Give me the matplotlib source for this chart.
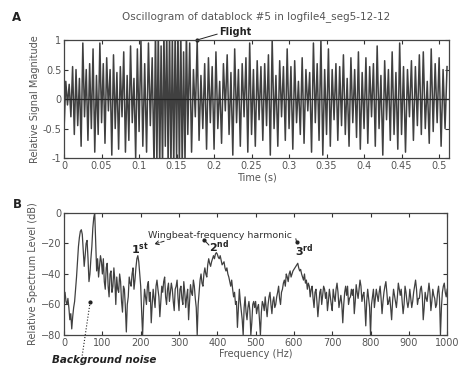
import numpy as np
import matplotlib
matplotlib.use("Agg")
import matplotlib.pyplot as plt

# Oscillogram: signal extremes, grouped by time span (s)
seg_edges = [0.0, 0.05, 0.10, 0.12, 0.165, 0.20, 0.25, 0.30, 0.35, 0.40, 0.45, 0.5133]
seg_values = [
    [-0.5, 0.3, -0.1, 0.25, -0.3, 0.55, -0.6, 0.5, -0.45, 0.35, -0.8, 0.95, -0.3, 0.5,
     -0.7, 0.6, -0.5, 0.85, -0.9, 0.4, -0.6, 0.95],
    [-0.4, 0.6, -0.75, 0.7, -0.2, 0.5, -0.95, 0.75, -0.5, 0.45, -0.85, 0.55, -0.3, 0.8,
     -0.9, 0.4, -0.7, 0.9, -0.4, 0.35, -1.0, 0.85],
    [-0.55, 1.0, -0.8, 0.6, -0.9, 0.95, -0.45, 0.7],
    [-1.2, 1.2, -1.1, 1.2, -1.2, 0.9, -1.2, 1.2, -0.8, 1.2, -1.2, 1.2, -1.2, 1.1,
     -1.2, 1.2, -1.0, 1.2, -1.2, 1.2, -1.2, 0.8, -1.1, 1.2],
    [-0.6, 0.95, -0.9, 0.5, -0.3, 1.0, -0.7, 0.4, -0.5, 0.6, -0.85, 0.7, -0.4, 0.55],
    [-0.85, 0.8, -0.5, 0.3, -0.75, 0.6, -0.2, 0.75, -0.6, 0.45, -0.95, 0.85, -0.4, 0.5,
     -0.8, 0.6, -0.3, 0.7, -0.9, 0.95],
    [-0.6, 0.5, -0.8, 0.65, -0.35, 0.55, -0.7, 0.6, -0.45, 0.75, -0.95, 1.0, -0.5, 0.4,
     -0.8, 0.65, -0.3, 0.55, -0.7, 0.85],
    [-0.5, 0.55, -0.85, 0.65, -0.4, 0.3, -0.6, 0.7, -0.75, 0.5, -0.2, 0.45, -0.9, 0.95,
     -0.4, 0.6, -0.7, 1.0, -0.95, 0.5],
    [-0.6, 0.85, -0.8, 0.5, -0.35, 0.6, -0.7, 0.55, -0.45, 0.75, -0.6, 0.35, -0.8, 0.7,
     -0.4, 0.5, -0.65, 0.8, -0.85, 0.45],
    [-0.5, 0.7, -0.75, 0.55, -0.3, 0.6, -0.8, 0.9, -0.5, 0.4, -0.95, 0.65, -0.35, 0.5,
     -0.7, 0.8, -0.6, 0.45, -0.85, 0.95],
    [-0.6, 0.55, -0.9, 0.5, -0.3, 0.65, -0.7, 0.55, -0.45, 0.75, -0.6, 0.8, -0.5, 0.3,
     -0.75, 0.85, -0.55, 0.6, -0.4, 0.7, -0.8, 0.5, -0.5, 0.55],
]

# Spectrum level (dB), one value every 2.5 Hz from 0 to 1000 Hz
spec_step = 2.5
spec_0_100 = [-55, -52, -58, -60, -56, -62, -70, -66, -76, -68, -62, -58, -50, -42, -32,
              -22, -16, -12, -11, -14, -25, -35, -28, -20, -18, -30, -45, -40, -30, -22,
              -10, -3, 0, -20, -38, -30, -42, -35, -28, -32, -40]
spec_100_200 = [-30, -45, -50, -36, -33, -48, -55, -40, -38, -52, -48, -36, -44, -60, -42,
                -50, -52, -40, -45, -58, -65, -48, -50, -62, -78, -60, -55, -42, -46, -48,
                -40, -36, -50, -44, -36, -30, -28, -32, -40, -48]
spec_200_300 = [-65, -80, -62, -50, -55, -60, -48, -45, -58, -52, -72, -60, -50, -56, -62,
                -48, -44, -50, -55, -68, -58, -48, -52, -45, -42, -55, -60, -50, -46, -58,
                -52, -46, -50, -58, -64, -50, -48, -44, -56, -64]
spec_300_400 = [-50, -48, -56, -60, -45, -52, -62, -55, -50, -70, -58, -47, -52, -54, -44,
                -48, -56, -62, -80, -60, -52, -44, -40, -46, -48, -40, -36, -40, -42, -34,
                -30, -33, -35, -32, -30, -28, -30, -27, -26, -27]
spec_400_500 = [-29, -30, -28, -31, -34, -33, -32, -36, -38, -36, -40, -42, -45, -48, -44,
                -50, -55, -52, -60, -58, -75, -62, -50, -58, -64, -70, -80, -62, -55, -65,
                -70, -62, -58, -64, -80, -72, -60, -58, -62, -58]
spec_500_600 = [-66, -62, -60, -70, -80, -65, -58, -60, -64, -55, -62, -68, -60, -55, -52,
                -60, -66, -58, -55, -62, -60, -55, -52, -48, -56, -60, -52, -50, -46, -44,
                -48, -40, -42, -45, -40, -38, -42, -40, -38, -37]
spec_600_700 = [-36, -35, -34, -33, -36, -38, -37, -40, -42, -44, -40, -46, -44, -50, -46,
                -48, -55, -50, -48, -56, -62, -52, -50, -58, -68, -60, -52, -50, -60, -54,
                -48, -50, -56, -52, -64, -58, -50, -55, -60, -64]
spec_700_800 = [-50, -55, -58, -50, -46, -52, -62, -58, -54, -60, -72, -60, -52, -48, -54,
                -48, -60, -56, -55, -50, -54, -50, -66, -58, -47, -52, -56, -50, -44, -48,
                -58, -54, -52, -60, -74, -58, -50, -56, -62, -80]
spec_800_900 = [-60, -55, -50, -62, -56, -50, -54, -58, -52, -48, -56, -66, -58, -52, -48,
                -45, -52, -60, -58, -55, -62, -70, -58, -50, -54, -58, -62, -55, -46, -50,
                -54, -50, -58, -66, -60, -48, -52, -58, -62, -58]
spec_900_1000 = [-50, -56, -62, -58, -52, -48, -44, -50, -60, -56, -56, -50, -48, -54, -70,
                 -62, -52, -56, -58, -52, -46, -52, -64, -58, -50, -54, -56, -62, -60, -52,
                 -48, -56, -80, -62, -52, -48, -46, -52, -55, -50]

spec_db = (spec_0_100 + spec_100_200 + spec_200_300 + spec_300_400 + spec_400_500
           + spec_500_600 + spec_600_700 + spec_700_800 + spec_800_900 + spec_900_1000)

t_list, sig_list = [], []
for i, vals in enumerate(seg_values):
    ts = np.linspace(seg_edges[i], seg_edges[i + 1], len(vals), endpoint=False)
    t_list.extend(ts)
    sig_list.extend(vals)
t = np.array(t_list)
sig = np.array(sig_list)
freqs = np.arange(len(spec_db)) * spec_step

txt_col = "#555555"
line_col = "#404040"
plt.rcParams["font.family"] = ["DejaVu Sans"]
plt.rcParams["font.size"] = 7

fig = plt.figure(figsize=(4.61, 3.71), dpi=100)
axA = fig.add_axes([0.139, 0.574, 0.835, 0.318])
axB = fig.add_axes([0.139, 0.097, 0.831, 0.329])

# panel A
axA.plot(t, sig, color=line_col, lw=1.1)
axA.axhline(0, color="#222222", lw=0.9)
axA.set_xlim(0, 0.5133)
axA.set_ylim(-1, 1)
axA.set_xticks(np.arange(0, 0.51, 0.05))
axA.set_xticklabels(["0", "0.05", "0.1", "0.15", "0.2", "0.25", "0.3", "0.35", "0.4", "0.45", "0.5"])
axA.set_yticks([-1, -0.5, 0, 0.5, 1])
axA.set_yticklabels(["-1", "-0.5", "0", "0.5", "1"])
axA.set_xlabel("Time (s)", color=txt_col, labelpad=1)
axA.set_ylabel("Relative Signal Magnitude", color=txt_col, labelpad=2)
axA.set_title("Oscillogram of datablock #5 in logfile4_seg5-12-12", color=txt_col, fontsize=7.5, pad=15)
axA.plot([0.204, 0.177], [1.10, 1.0], color="#222222", lw=0.7, clip_on=False)
axA.plot([0.177], [1.0], "o", color="#222222", ms=2, clip_on=False)
axA.text(0.207, 1.13, "Flight", fontweight="bold", fontsize=7, color="#222222", va="center")

# panel B
axB.plot(freqs, spec_db, color=line_col, lw=0.9)
axB.set_xlim(0, 1000)
axB.set_ylim(-80, 0)
axB.set_xticks(np.arange(0, 1001, 100))
axB.set_yticks([-80, -60, -40, -20, 0])
axB.set_xlabel("Frequency (Hz)", color=txt_col, labelpad=1)
axB.set_ylabel("Relative Spectrum Level (dB)", color=txt_col, labelpad=2)
axB.text(407, -14.5, "Wingbeat-frequency harmonic", ha="center", va="center", fontsize=6.8, color="#333333")
axB.text(198, -24, r"$\mathbf{1^{st}}$", ha="center", va="center", fontsize=8, color="#222222")
axB.annotate("", xy=(228, -21), xytext=(268, -18),
             arrowprops=dict(arrowstyle="->", color="#222222", lw=0.7, ls="--"))
axB.text(405, -22, r"$\mathbf{2^{nd}}$", ha="center", va="center", fontsize=8, color="#222222")
axB.plot([365, 378], [-17.5, -21], color="#222222", lw=0.7)
axB.plot([365], [-17.5], "o", color="#222222", ms=2)
axB.text(628, -25, r"$\mathbf{3^{rd}}$", ha="center", va="center", fontsize=8, color="#222222")
axB.plot([605, 607], [-17, -19], color="#222222", lw=0.7)
axB.plot([607], [-19], "o", color="#222222", ms=2)
axB.plot([68, 47], [-58.4, -94], color="#222222", lw=0.8, ls=":", clip_on=False)
axB.plot([68], [-58.4], "o", color="#222222", ms=2)
fig.text(0.225, 0.03, "Background noise", fontweight="bold", style="italic", fontsize=7.5,
         color="#222222", ha="center", va="center")

for ax in (axA, axB):
    ax.tick_params(direction="in", length=3, colors="#333333", labelcolor=txt_col,
                   top=True, right=True, pad=2)
    for s in ax.spines.values():
        s.set_color("#444444")
        s.set_linewidth(0.9)

fig.text(0.026, 0.954, "A", fontweight="bold", fontsize=8.5, color="#222222", va="center")
fig.text(0.028, 0.450, "B", fontweight="bold", fontsize=8.5, color="#222222", va="center")

fig.savefig("out.png", dpi=100)
